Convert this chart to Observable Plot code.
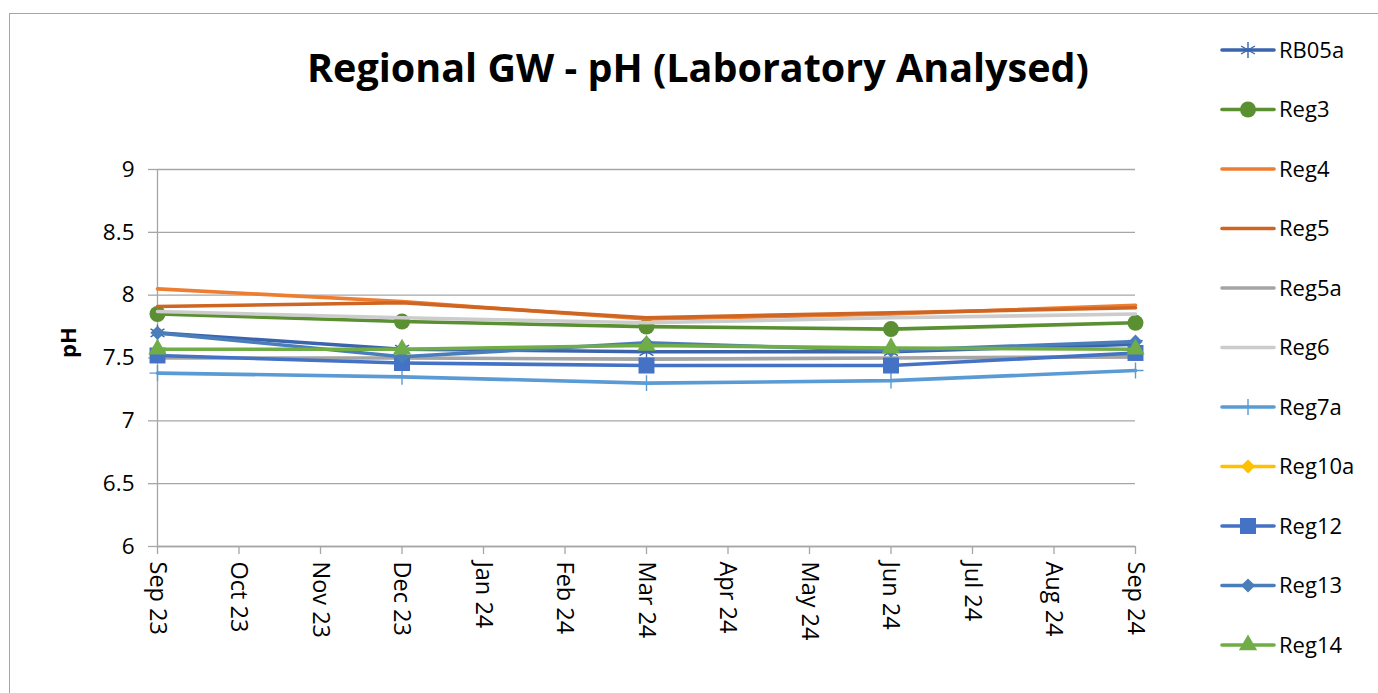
<!DOCTYPE html>
<html>
<head>
<meta charset="utf-8">
<script src="https://cdn.jsdelivr.net/npm/d3@7"></script>
<script src="https://cdn.jsdelivr.net/npm/@observablehq/plot@0.6"></script>
<style>
  html, body { margin: 0; padding: 0; background: #fff; }
  #wrap { position: relative; width: 1378px; height: 693px; overflow: hidden; font-family: "Open Sans", sans-serif; }
  #frame { position: absolute; left: 9px; top: 13px; width: 1400px; height: 700px; border: 1.5px solid #a6a6a6; box-sizing: border-box; }
  #title { position: absolute; left: 0; width: 1396px; top: 40px; line-height: 54px; text-align: center; font-weight: 700; font-size: 39.5px; color: #000; }
  #chart { position: absolute; left: 0; top: 0; }
  #legend { position: absolute; left: 0; top: 0; }
</style>
</head>
<body>
<div id="wrap">
  <div id="frame"></div>
  <div id="chart"></div>
  <div id="title">Regional GW - pH (Laboratory Analysed)</div>
  <div id="legend"></div>
</div>
<script>
// ---- data ----
const monthLabels = ["Sep 23","Oct 23","Nov 23","Dec 23","Jan 24","Feb 24","Mar 24","Apr 24","May 24","Jun 24","Jul 24","Aug 24","Sep 24"];
const sampleMonths = ["Sep 23","Dec 23","Mar 24","Jun 24","Sep 24"];
const yTicks = [6, 6.5, 7, 7.5, 8, 8.5, 9];

const RB05a = [7.70, 7.57, 7.55, 7.55, 7.61];
const Reg3  = [7.85, 7.79, 7.75, 7.73, 7.78];
const Reg4  = [8.05, 7.95, 7.81, 7.85, 7.92];
const Reg5  = [7.91, 7.94, 7.82, 7.86, 7.90];
const Reg5a = [7.50, 7.50, 7.49, 7.50, 7.51];
const Reg6  = [7.87, 7.82, 7.78, 7.82, 7.85];
const Reg7a = [7.38, 7.35, 7.30, 7.32, 7.40];
const Reg10a = [];
const Reg12 = [7.52, 7.46, 7.44, 7.44, 7.54];
const Reg13 = [7.70, 7.51, 7.62, 7.56, 7.63];
const Reg14 = [7.57, 7.57, 7.60, 7.58, 7.57];

const seriesNames = ["RB05a","Reg3","Reg4","Reg5","Reg5a","Reg6","Reg7a","Reg10a","Reg12","Reg13","Reg14"];
const seriesValues = [RB05a, Reg3, Reg4, Reg5, Reg5a, Reg6, Reg7a, Reg10a, Reg12, Reg13, Reg14];
const seriesColors = ["#3b64ad","#5a8f32","#ed7d31","#cf6522","#a5a5a5","#cccccc","#5b9bd5","#ffc000","#4472c4","#4a7ebb","#70ad47"];
const seriesSymbols = ["asterisk","circle",null,null,null,null,"plus","diamond2","square","diamond2","triangle"];
const seriesR = [7.6, 8, 0, 0, 0, 0, 5.2, 6.4, 9, 6.4, 6.8];

// ---- build table ----
const rows = [];
seriesNames.forEach((name, si) => {
  seriesValues[si].forEach((v, i) => {
    rows.push({series: name, si, x: monthLabels.indexOf(sampleMonths[i]), y: v});
  });
});

const W = 1378, H = 693;
const marks = [
  Plot.gridY(yTicks, {stroke: "#a6a6a6", strokeOpacity: 1, strokeWidth: 1.3}),
  Plot.ruleX([0], {stroke: "#a6a6a6", strokeWidth: 1.3}),
  Plot.ruleY([6], {stroke: "#a6a6a6", strokeWidth: 1.3}),
  Plot.axisY(yTicks, {tickSize: 9, tickPadding: 14, fontSize: 22.5, stroke: "#a6a6a6", strokeWidth: 1.3, fill: "#000", label: null, tickFormat: d => String(d)}),
  Plot.axisX(d3.range(monthLabels.length), {tickSize: 8, tickPadding: 7, fontSize: 23.5, tickRotate: 90, stroke: "#a6a6a6", strokeWidth: 1.3, fill: "#000", label: null, tickFormat: i => monthLabels[i]})
];
seriesNames.forEach((name, si) => {
  const data = rows.filter(r => r.si === si);
  if (!data.length) return;
  marks.push(Plot.line(data, {x: "x", y: "y", stroke: seriesColors[si], strokeWidth: 3.6}));
  const sym = seriesSymbols[si];
  if (sym) {
    const strokeSym = sym === "asterisk" || sym === "plus";
    marks.push(Plot.dot(data, strokeSym
      ? {x: "x", y: "y", symbol: () => sym, r: seriesR[si], stroke: seriesColors[si], strokeWidth: 1.4, fill: "none"}
      : {x: "x", y: "y", symbol: () => sym, r: seriesR[si], fill: seriesColors[si], stroke: "none"}));
  }
});

const chart = Plot.plot({
  width: W, height: H,
  marginLeft: 157, marginRight: W - 1135, marginTop: 169, marginBottom: H - 546,
  style: {fontFamily: "'Open Sans', sans-serif", background: "transparent", color: "#000"},
  x: {type: "linear", domain: [0, monthLabels.length - 1], axis: null},
  y: {domain: [6, 9], axis: null},
  symbol: {type: "identity"},
  marks: [
    ...marks,
    Plot.text(["pH"], {frameAnchor: "left", dx: -89, rotate: -90, fontSize: 22, fontWeight: "bold", fill: "#000"})
  ]
});
document.getElementById("chart").appendChild(chart);

// ---- legend ----
const symMap = {asterisk: d3.symbolAsterisk, circle: d3.symbolCircle, plus: d3.symbolPlus, diamond2: d3.symbolDiamond2, square: d3.symbolSquare, triangle: d3.symbolTriangle};
const lg = d3.select("#legend").append("svg").attr("width", W).attr("height", H);
const y0 = 50, dy = 59.5;
seriesNames.forEach((name, si) => {
  const g = lg.append("g").attr("transform", `translate(0,${y0 + si * dy})`);
  g.append("line").attr("x1", 1222).attr("x2", 1274).attr("y1", 0).attr("y2", 0)
    .attr("stroke", seriesColors[si]).attr("stroke-width", 3.6).attr("stroke-linecap", "round");
  const sym = seriesSymbols[si];
  if (sym) {
    const strokeSym = sym === "asterisk" || sym === "plus";
    const p = g.append("path").attr("transform", "translate(1248,0)")
      .attr("d", d3.symbol(symMap[sym], Math.PI * seriesR[si] * seriesR[si])());
    if (strokeSym) p.attr("fill", "none").attr("stroke", seriesColors[si]).attr("stroke-width", 1.4);
    else p.attr("fill", seriesColors[si]);
  }
  g.append("text").attr("x", 1279).attr("y", 0).attr("dy", "0.36em")
    .attr("font-family", "'Open Sans', sans-serif").attr("font-size", 22).attr("fill", "#000").text(name);
});
</script>
</body>
</html>
